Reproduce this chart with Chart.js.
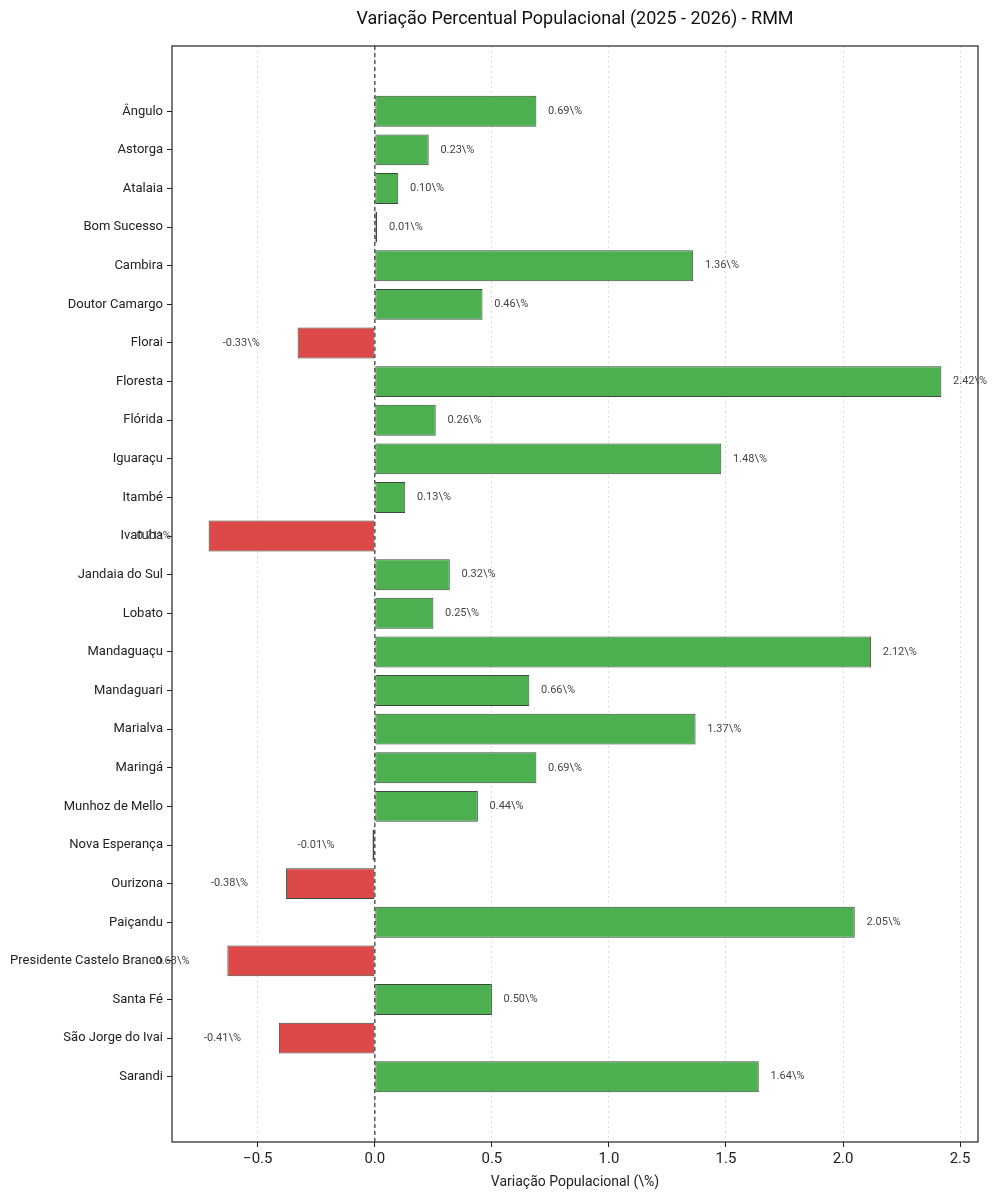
<!DOCTYPE html>
<html lang="pt-BR">
<head>
<meta charset="UTF-8">
<title>Variação Percentual Populacional (2025 - 2026) - RMM</title>
<script src="https://cdn.jsdelivr.net/npm/chart.js@4"></script>
<style>
    html, body { margin: 0; padding: 0; background: #fff; }
    canvas { display: block; }
</style>
</head>
<body>
<canvas id="popChart" width="998" height="1200"></canvas>
<script>
// municipios da RMM e variacao % (2025 -> 2026)
var municipios = [
    'Ângulo', 'Astorga', 'Atalaia', 'Bom Sucesso', 'Cambira', 'Doutor Camargo',
    'Florai', 'Floresta', 'Flórida', 'Iguaraçu', 'Itambé', 'Ivatuba',
    'Jandaia do Sul', 'Lobato', 'Mandaguaçu', 'Mandaguari', 'Marialva', 'Maringá',
    'Munhoz de Mello', 'Nova Esperança', 'Ourizona', 'Paiçandu',
    'Presidente Castelo Branco', 'Santa Fé', 'São Jorge do Ivai', 'Sarandi'
];
var variacao = [
    0.69, 0.23, 0.10, 0.01, 1.36, 0.46,
    -0.33, 2.42, 0.26, 1.48, 0.13, -0.71,
    0.32, 0.25, 2.12, 0.66, 1.37, 0.69,
    0.44, -0.01, -0.38, 2.05,
    -0.63, 0.50, -0.41, 1.64
];
var xTicks = [-0.5, 0.0, 0.5, 1.0, 1.5, 2.0, 2.5];
var titulo = 'Variação Percentual Populacional (2025 - 2026) - RMM';

var FONT = 'Roboto, "Open Sans", sans-serif';
var GREEN = '#4CAF50';
var RED = '#DD4848';

var chartData = variacao.map((v, i) => ({ x: v, y: i }));

// titulo centrado na area do grafico, moldura, linha do zero e rotulos
var extras = {
    id: 'extras',
    afterDatasetsDraw(chart) {
        var ctx = chart.ctx;
        var area = chart.chartArea;
        var xs = chart.scales.x;
        var ys = chart.scales.y;

        ctx.save();
        var x0 = xs.getPixelForValue(0);
        ctx.strokeStyle = '#333';
        ctx.lineWidth = 1.2;
        ctx.setLineDash([4, 3]);
        ctx.beginPath();
        ctx.moveTo(x0, area.top);
        ctx.lineTo(x0, area.bottom);
        ctx.stroke();
        ctx.setLineDash([]);

        ctx.strokeStyle = '#222';
        ctx.lineWidth = 1.2;
        ctx.strokeRect(area.left, area.top, area.right - area.left, area.bottom - area.top);

        ctx.font = '11px ' + FONT;
        ctx.fillStyle = '#444';
        ctx.textBaseline = 'middle';
        ctx.textAlign = 'left';
        variacao.forEach((v, i) => {
            var pos = v > 0 ? v + 0.05 : v - 0.32;
            ctx.fillText(v.toFixed(2) + '\\%', xs.getPixelForValue(pos), ys.getPixelForValue(i));
        });

        ctx.font = '18px ' + FONT;
        ctx.fillStyle = '#111';
        ctx.textAlign = 'center';
        ctx.fillText(titulo, (area.left + area.right) / 2, 19);
        ctx.restore();
    }
};

var ctx = document.getElementById('popChart').getContext('2d');
var popChart = new Chart(ctx, {
    type: 'bar',
    data: {
        datasets: [{
            data: chartData,
            backgroundColor: variacao.map(v => v >= 0 ? GREEN : RED),
            borderColor: 'rgba(35,55,35,0.9)',
            borderWidth: 1,
            borderSkipped: false,
            barPercentage: 0.8,
            categoryPercentage: 1.0
        }]
    },
    options: {
        indexAxis: 'y',
        responsive: false,
        animation: false,
        devicePixelRatio: 1,
        layout: { padding: { left: 0, right: 20, top: 46, bottom: 9 } },
        plugins: {
            legend: { display: false },
            tooltip: { enabled: false },
            title: { display: false }
        },
        scales: {
            x: {
                type: 'linear',
                min: -0.8665,
                max: 2.5765,
                afterBuildTicks: axis => { axis.ticks = xTicks.map(v => ({ value: v })); },
                afterFit: axis => { axis.height = 49; },
                ticks: {
                    color: '#222',
                    font: { family: FONT, size: 15 },
                    padding: 3,
                    callback: v => (v < 0 ? '\u2212' : '') + Math.abs(v).toFixed(1)
                },
                grid: {
                    color: 'rgba(0,0,0,0.14)',
                    lineWidth: 1,
                    tickLength: 5,
                    tickColor: '#222'
                },
                border: { display: false, dash: [2, 3] },
                title: {
                    display: true,
                    text: 'Variação Populacional (\\%)',
                    color: '#222',
                    font: { family: FONT, size: 14 },
                    padding: { top: 0, bottom: 0 }
                }
            },
            y: {
                type: 'linear',
                reverse: true,
                offset: false,
                min: -1.69,
                max: 26.69,
                afterBuildTicks: axis => { axis.ticks = municipios.map((m, i) => ({ value: i })); },
                afterFit: axis => { axis.width = 172; },
                ticks: {
                    color: '#222',
                    font: { family: FONT, size: 13 },
                    padding: 4,
                    callback: v => municipios[v]
                },
                grid: {
                    offset: false,
                    drawOnChartArea: false,
                    tickLength: 5,
                    tickColor: '#222'
                },
                border: { display: false }
            }
        }
    },
    plugins: [extras]
});
</script>
</body>
</html>
